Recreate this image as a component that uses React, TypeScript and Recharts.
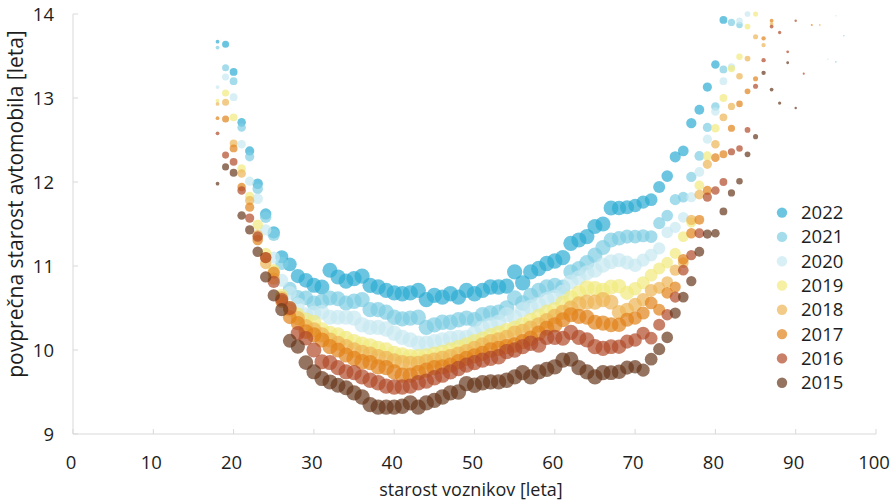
import React from "react";
import { ScatterChart, Scatter, XAxis, YAxis, ZAxis, Legend, Label } from "recharts";

// Driver age (years) — one entry per value slot in the series below
const ages = [
  18, 19, 20, 21, 22, 23, 24, 25, 26, 27, 28, 29, 30, 31, 32, 33, 34, 35, 36, 37,
  38, 39, 40, 41, 42, 43, 44, 45, 46, 47, 48, 49, 50, 51, 52, 53, 54, 55, 56, 57,
  58, 59, 60, 61, 62, 63, 64, 65, 66, 67, 68, 69, 70, 71, 72, 73, 74, 75, 76, 77,
  78, 79, 80, 81, 82, 83, 84, 85, 86, 87, 88, 89, 90, 91, 92, 93, 94, 95, 96,
];

// Relative number of drivers per age (bubble area)
const driverWeight = [
  6, 21, 26, 31, 36, 47, 55, 64, 73, 81, 86, 92, 96, 96, 96, 96, 96, 100, 100, 100,
  100, 100, 100, 100, 100, 100, 100, 100, 100, 100, 100, 100, 100, 100, 100, 100, 100, 100, 100, 100,
  100, 100, 100, 97, 97, 97, 97, 97, 97, 94, 89, 84, 78, 73, 69, 62, 57, 53, 49, 45,
  41, 36, 31, 26, 22, 18, 14, 11, 8, 6, 4.6, 3.4, 2.5, 2, 1.7, 1.3, 1, 1, 1,
];

// Average car age (years) by driver age, per year
const v2022 = [
  13.67, 13.64, 13.31, 12.71, 12.37, 11.98, 11.62, 11.4, 11.11, 11.02, 10.88, 10.83, 10.77, 10.75, 10.95, 10.87, 10.82, 10.85, 10.88, 10.77,
  10.75, 10.71, 10.68, 10.67, 10.68, 10.71, 10.6, 10.65, 10.63, 10.67, 10.63, 10.71, 10.67, 10.71, 10.75, 10.75, 10.76, 10.93, 10.8, 10.93,
  10.97, 11.03, 11.06, 11.1, 11.27, 11.31, 11.35, 11.47, 11.5, 11.69, 11.69, 11.7, 11.72, 11.76, 11.79, 11.94, 12.07, 12.3, 12.37, 12.7,
  12.86, 13.13, 13.4, 13.93,
];
const v2021 = [
  13.6, 13.36, 13.2, 12.65, 12.3, 11.92, 11.58, 11.37, 11.03, 10.73, 10.63, 10.62, 10.56, 10.58, 10.62, 10.61, 10.56, 10.58, 10.6, 10.48,
  10.48, 10.45, 10.39, 10.37, 10.38, 10.39, 10.27, 10.3, 10.33, 10.33, 10.36, 10.38, 10.36, 10.42, 10.44, 10.45, 10.5, 10.62, 10.56, 10.65,
  10.71, 10.75, 10.77, 10.75, 10.93, 10.97, 11.04, 11.13, 11.22, 11.31, 11.33, 11.35, 11.35, 11.36, 11.35, 11.51, 11.6, 11.79, 11.82, 12.06,
  12.31, 12.65, 12.9, 13.34, 13.9, 13.87, null, null, null, null, null, null, null, null, null, null, null, 13.43, 13.74,
];
const v2020 = [
  13.13, 13.25, 13.01, 12.45, 12.01, 11.8, 11.43, 11.1, 10.83, 10.68, 10.54, 10.42, 10.44, 10.45, 10.39, 10.39, 10.39, 10.38, 10.3, 10.27,
  10.27, 10.25, 10.2, 10.15, 10.12, 10.08, 10.08, 10.1, 10.12, 10.14, 10.15, 10.15, 10.2, 10.26, 10.3, 10.33, 10.42, 10.39, 10.48, 10.51,
  10.54, 10.6, 10.63, 10.69, 10.81, 10.86, 10.92, 10.95, 11.01, 11.05, 11.07, 11.04, 11.01, 11.07, 11.13, 11.21, 11.4, 11.46, 11.58, 11.82,
  12.12, 12.51, 12.84, 13.2, 13.37, 13.92, 14.0, null, null, null, null, null, null, null, null, null, 13.46, 13.98,
];
const v2019 = [
  12.97, 13.06, 12.77, 12.16, 11.83, 11.49, 11.15, 10.95, 10.65, 10.5, 10.42, 10.36, 10.33, 10.24, 10.2, 10.18, 10.14, 10.1, 10.07, 10.05,
  10.02, 10.0, 9.96, 9.94, 9.92, 9.92, 9.93, 9.95, 9.97, 10.0, 10.03, 10.06, 10.1, 10.13, 10.17, 10.2, 10.23, 10.26, 10.3, 10.35,
  10.4, 10.45, 10.48, 10.56, 10.62, 10.68, 10.74, 10.73, 10.71, 10.75, 10.76, 10.68, 10.73, 10.8, 10.89, 10.97, 11.04, 11.15, 11.35, 11.52,
  11.96, 12.31, 12.64, 13.0, 13.35, 13.49, 13.85, 14.0,
];
const v2018 = [
  12.93, 12.95, 12.46, 12.1, 11.78, 11.37, 11.03, 10.85, 10.62, 10.48, 10.38, 10.28, 10.24, 10.18, 10.12, 10.08, 10.04, 10.0, 9.97, 9.95,
  9.92, 9.9, 9.87, 9.85, 9.84, 9.84, 9.86, 9.88, 9.9, 9.92, 9.95, 9.98, 10.02, 10.06, 10.1, 10.12, 10.15, 10.2, 10.22, 10.26,
  10.3, 10.35, 10.4, 10.45, 10.5, 10.55, 10.57, 10.57, 10.6, 10.57, 10.45, 10.48, 10.54, 10.6, 10.71, 10.74, 10.81, 10.95, 11.04, 11.55,
  11.85, 12.21, 12.45, 12.77, 12.9, 13.26, 13.47, 13.73, 13.63, 13.88, null, null, null, null, null, 13.87,
];
const v2017 = [
  12.76, 12.75, 12.4, 11.94, 11.7, 11.31, 11.1, 10.92, 10.58, 10.39, 10.32, 10.22, 10.18, 10.12, 10.04, 10.0, 9.94, 9.9, 9.86, 9.85,
  9.8, 9.79, 9.74, 9.7, 9.7, 9.73, 9.76, 9.79, 9.8, 9.82, 9.86, 9.9, 9.93, 9.96, 10.0, 10.02, 10.04, 10.06, 10.1, 10.14,
  10.2, 10.26, 10.3, 10.36, 10.42, 10.4, 10.39, 10.33, 10.32, 10.3, 10.3, 10.36, 10.38, 10.44, 10.56, 10.48, 10.68, 10.75, 11.08, 11.39,
  11.55, 11.9, 12.29, 12.33, 12.64, 12.93, 13.08, 13.23, 13.71, 13.92, null, null, null, null, 13.87,
];
const v2016 = [
  12.58, 12.32, 12.24, 11.9, 11.57, 11.35, 11.1, 10.81, 10.6, 10.5, 10.2, 10.14, 10.0, 9.86, 9.85, 9.79, 9.74, 9.73, 9.68, 9.64,
  9.61, 9.57, 9.56, 9.56, 9.57, 9.61, 9.63, 9.67, 9.7, 9.74, 9.78, 9.82, 9.85, 9.88, 9.9, 9.92, 9.98, 10.0, 10.04, 10.08,
  10.06, 10.15, 10.15, 10.14, 10.21, 10.15, 10.12, 10.04, 10.02, 10.04, 10.04, 10.1, 10.12, 10.2, 10.14, 10.3, 10.42, 10.63, 10.95, 11.13,
  11.39, 11.82, 11.9, 12.0, 12.36, 12.4, 12.62, 13.14, 13.45, 13.85, 13.78, 13.55, 13.92, 13.29,
];
const v2015 = [
  11.98, 12.18, 12.11, 11.6, 11.43, 11.17, 10.87, 10.65, 10.48, 10.11, 10.04, 9.85, 9.74, 9.66, 9.62, 9.58, 9.55, 9.49, 9.44, 9.35,
  9.32, 9.32, 9.32, 9.33, 9.37, 9.32, 9.37, 9.4, 9.44, 9.49, 9.5, 9.6, 9.58, 9.61, 9.62, 9.62, 9.64, 9.68, 9.73, 9.68,
  9.74, 9.77, 9.8, 9.88, 9.89, 9.79, 9.74, 9.68, 9.73, 9.73, 9.74, 9.79, 9.8, 9.76, 9.89, 10.01, 10.15, 10.44, 10.63, 10.82,
  11.17, 11.38, 11.39, 11.65, 11.87, 12.01, 12.33, 12.54, 13.3, 13.1, 12.94, 13.42, 12.88,
];

const years = ["2022", "2021", "2020", "2019", "2018", "2017", "2016", "2015"];
const yearValues = [v2022, v2021, v2020, v2019, v2018, v2017, v2016, v2015];
const yearColors = ["#2dacd3", "#7ecde4", "#c6e8f1", "#f1ea7e", "#eeb555", "#e1811a", "#b04a2a", "#67381c"];

const xTicks = [0, 10, 20, 30, 40, 50, 60, 70, 80, 90, 100];
const yTicks = [9, 10, 11, 12, 13, 14];

const FONT = "'Open Sans', 'Noto Sans', sans-serif";
const AXIS_COLOR = "#d9d9d9";
const TEXT_COLOR = "#1e1e1e";
const OPACITY = 0.7;

const series = years.map((year, i) => ({
  year,
  color: yearColors[i],
  points: ages
    .map((age, k) => ({ age, value: yearValues[i][k], weight: driverWeight[k] }))
    .filter((p) => p.value !== null && p.value !== undefined),
}));

const XTick = (props: any) => {
  const { x, y, payload } = props;
  return (
    <g>
      <line x1={x} y1={y} x2={x} y2={y - 5} stroke={AXIS_COLOR} />
      <text x={x - 2} y={y + 35} textAnchor="middle" fontSize={18.5} fontFamily={FONT} fill={TEXT_COLOR}>
        {payload.value}
      </text>
    </g>
  );
};

const YTick = (props: any) => {
  const { x, y, payload } = props;
  return (
    <g>
      <line x1={x} y1={y} x2={x + 5} y2={y} stroke={AXIS_COLOR} />
      <text x={x - 19} y={y + 6.5} textAnchor="end" fontSize={18.5} fontFamily={FONT} fill={TEXT_COLOR}>
        {payload.value}
      </text>
    </g>
  );
};

const XTitle = () => (
  <text x={471} y={496} textAnchor="middle" fontSize={18} fontFamily={FONT} fill={TEXT_COLOR}>
    starost voznikov [leta]
  </text>
);

const YTitle = () => (
  <text
    x={0}
    y={0}
    transform="translate(23, 204) rotate(-90)"
    textAnchor="middle"
    fontSize={21}
    fontFamily={FONT}
    fill={TEXT_COLOR}
  >
    povprečna starost avtomobila [leta]
  </text>
);

const YearLegend = () => (
  <svg width={120} height={200} style={{ display: "block" }}>
    {series.map((s, i) => (
      <g key={s.year}>
        <circle cx={12} cy={14.6 + i * 24.3} r={5.2} fill={s.color} fillOpacity={OPACITY} />
        <text x={31} y={14.6 + i * 24.3 + 6.5} fontSize={18.5} fontFamily={FONT} fill={TEXT_COLOR}>
          {s.year}
        </text>
      </g>
    ))}
  </svg>
);

export default function App() {
  return (
    <div style={{ position: "absolute", left: 0, top: 0, width: 895, height: 500, background: "#fff" }}>
      <ScatterChart width={895} height={500} margin={{ top: 14, right: 19, bottom: 0, left: 0 }}>
        <XAxis
          type="number"
          dataKey="age"
          domain={[0, 100]}
          ticks={xTicks}
          interval={0}
          height={66}
          axisLine={{ stroke: AXIS_COLOR }}
          tickLine={false}
          tickSize={0}
          tickMargin={0}
          tick={<XTick />}
        >
          <Label content={<XTitle />} />
        </XAxis>
        <YAxis
          type="number"
          dataKey="value"
          domain={[9, 14]}
          ticks={yTicks}
          interval={0}
          width={73}
          axisLine={{ stroke: AXIS_COLOR }}
          tickLine={false}
          tickSize={0}
          tickMargin={0}
          tick={<YTick />}
        >
          <Label content={<YTitle />} />
        </YAxis>
        <ZAxis type="number" dataKey="weight" domain={[0, 100]} range={[0, 185]} />
        <Legend
          layout="vertical"
          align="center"
          verticalAlign="middle"
          content={<YearLegend />}
          wrapperStyle={{ left: 770, top: 198, width: 120, height: 200 }}
        />
        {series.map((s) => (
          <Scatter
            key={s.year}
            name={s.year}
            data={s.points}
            fill={s.color}
            fillOpacity={OPACITY}
            shape="circle"
            isAnimationActive={false}
          />
        ))}
      </ScatterChart>
    </div>
  );
}
